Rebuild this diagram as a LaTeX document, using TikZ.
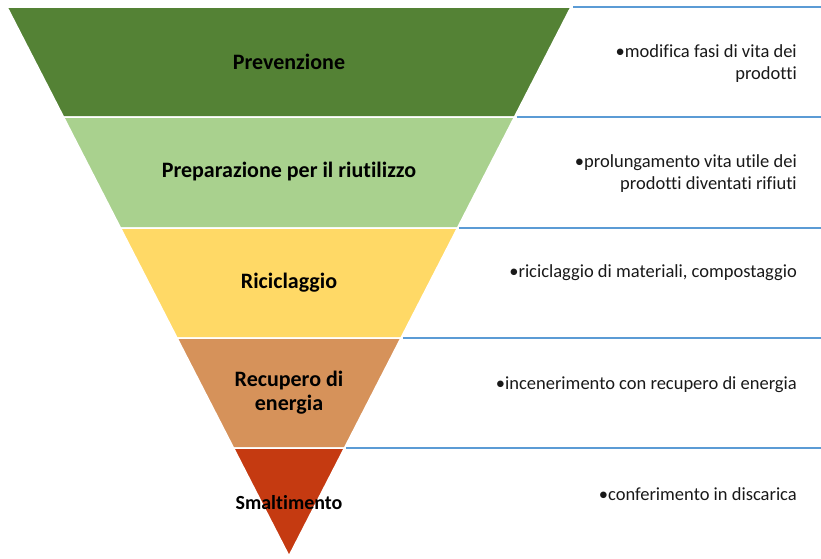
\documentclass[tikz,border=0pt]{standalone}
\usepackage{fontspec}
\setmainfont[Ligatures=NoCommon]{Carlito}
\definecolor{gA}{RGB}{84,130,53}
\definecolor{gB}{RGB}{169,209,142}
\definecolor{gC}{RGB}{255,217,102}
\definecolor{gD}{RGB}{214,146,90}
\definecolor{gE}{RGB}{197,58,17}
\definecolor{bline}{RGB}{91,155,213}
\begin{document}
\begin{tikzpicture}[x=1pt,y=-1pt,
  band/.style={draw=white,line width=1.5pt},
  sep/.style={draw=bline,line width=1.6pt},
  lab/.style={font=\fontsize{22}{24}\selectfont\bfseries,align=center,inner sep=0pt,text=black},
  desc/.style={font=\fontsize{18.5}{22}\selectfont,align=right,anchor=north east,inner sep=0pt,text=black!90}]
\useasboundingbox (0,0) rectangle (821,558);
\fill[white] (0,0) rectangle (821,558);
\foreach \ya/\yb/\cc in {7/117/gA,117/228/gB,228/338/gC,338/448/gD,448/556/gE}{
  \pgfmathsetmacro{\ha}{0.513661*(556-\ya)}
  \pgfmathsetmacro{\hb}{0.513661*(556-\yb)}
  \filldraw[band,fill=\cc] (289-\ha,\ya) -- (289+\ha,\ya) -- (289+\hb,\yb) -- (289-\hb,\yb) -- cycle;
  \coordinate (s\ya) at (289+\ha+2,\ya);
  \coordinate (e\ya) at (821,\ya);
  \draw[sep] (s\ya) -- (e\ya);
}
\node[lab] (l1) at (289,62) {Prevenzione};
\node[lab] (l2) at (289,172) {Preparazione per il riutilizzo};
\node[lab] (l3) at (289,283) {Riciclaggio};
\node[lab] (l4) at (289,393) {Recupero di\\energia};
\node[lab,font=\fontsize{20}{24}\selectfont\bfseries] (l5) at (289,503) {Smaltimento};
\node[desc] (d1) at (797,44) {•modifica fasi di vita dei\\prodotti};
\node[desc] (d2) at (797,154) {•prolungamento vita utile dei\\prodotti diventati rifiuti};
\node[desc] (d3) at (797,264) {•riciclaggio di materiali, compostaggio};
\node[desc] (d4) at (797,376) {•incenerimento con recupero di energia};
\node[desc] (d5) at (797,487) {•conferimento in discarica};
\end{tikzpicture}
\end{document}
